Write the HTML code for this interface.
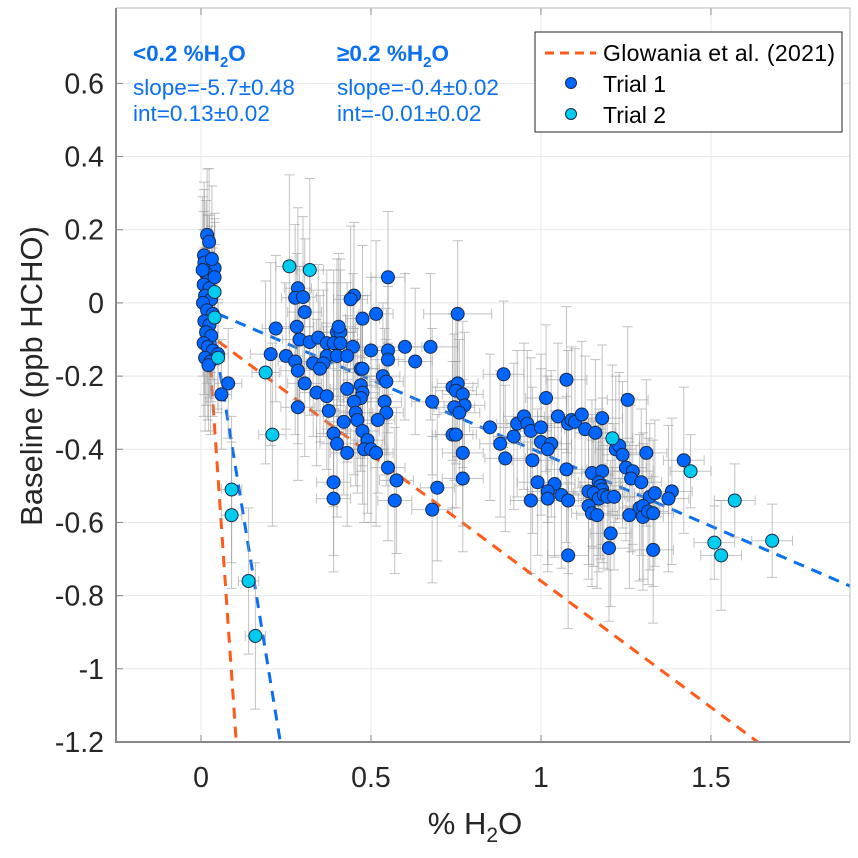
<!DOCTYPE html>
<html><head><meta charset="utf-8"><style>
html,body{margin:0;padding:0;background:#fff;}
svg{display:block;font-family:"Liberation Sans",sans-serif;}
</style></head><body>
<svg id="chart" width="858" height="858" viewBox="0 0 858 858" xmlns="http://www.w3.org/2000/svg">
<rect x="0" y="0" width="858" height="858" fill="#fff"/>
<g id="grid"></g>
<g id="lines"></g>
<g id="errs"></g>
<g id="pts"></g>
<g id="axes"></g>
<text x="0" y="0" transform="translate(42,376) rotate(-90)" text-anchor="middle" font-size="31" fill="#262626">Baseline (ppb HCHO)</text>
<text x="475" y="834" text-anchor="middle" font-size="31" fill="#262626">% H<tspan font-size="21" dy="8">2</tspan><tspan dy="-8">O</tspan></text>
<g fill="#0a6ff0" font-size="22.5">
<text x="133" y="61" font-weight="bold">&lt;0.2 %H<tspan font-size="15" dy="6">2</tspan><tspan dy="-6">O</tspan></text>
<text x="133" y="95">slope=-5.7±0.48</text>
<text x="133" y="121">int=0.13±0.02</text>
</g>
<g fill="#0a6ff0" font-size="22.5">
<text x="337" y="61" font-weight="bold">≥0.2 %H<tspan font-size="15" dy="6">2</tspan><tspan dy="-6">O</tspan></text>
<text x="337" y="95">slope=-0.4±0.02</text>
<text x="337" y="121">int=-0.01±0.02</text>
</g>
<g>
<rect x="535" y="32" width="307" height="100" fill="#fff" stroke="#262626" stroke-width="1"/>
<line x1="545" y1="53" x2="596" y2="53" stroke="#ff5a1a" stroke-width="3" stroke-dasharray="9,6"/>
<text x="603" y="61" font-size="23" fill="#000" textLength="232">Glowania et al. (2021)</text>
<circle cx="571" cy="83" r="5.5" fill="#0066ff" stroke="#1a2a4a" stroke-width="1"/>
<text x="603" y="92" font-size="23" fill="#000">Trial 1</text>
<circle cx="571" cy="114" r="5.5" fill="#00ccf0" stroke="#1a2a4a" stroke-width="1"/>
<text x="603" y="123" font-size="23" fill="#000">Trial 2</text>
</g>
</svg>
<script>
// data: [x, y, xErr, yErr]
var trial1Points = [
[0.018,0.186,0.01,0.18],[0.024,0.167,0.01,0.2],[0.009,0.13,0.01,0.2],[0.04,0.095,0.015,0.15],
[0.01,0.11,0.01,0.2],[0.015,0.08,0.01,0.2],[0.02,0.06,0.01,0.18],[0.008,0.05,0.01,0.2],
[0.025,0.04,0.01,0.2],[0.012,0.02,0.01,0.18],[0.03,0.01,0.01,0.2],[0.006,0.0,0.01,0.2],
[0.018,-0.02,0.01,0.2],[0.035,-0.03,0.015,0.18],[0.01,-0.05,0.01,0.2],[0.025,-0.06,0.01,0.2],
[0.015,-0.08,0.01,0.2],[0.03,-0.09,0.01,0.18],[0.008,-0.11,0.01,0.2],[0.02,-0.12,0.01,0.2],
[0.035,-0.13,0.01,0.18],[0.012,-0.15,0.01,0.2],[0.028,-0.16,0.01,0.2],[0.022,-0.17,0.01,0.18],
[0.05,-0.14,0.03,0.15],[0.08,-0.22,0.04,0.15],[0.06,-0.25,0.03,0.15],[0.04,0.07,0.01,0.15],
[0.032,0.12,0.01,0.2],[0.005,0.09,0.01,0.2],
[0.22,-0.07,0.04,0.2],[0.205,-0.14,0.06,0.25],[0.25,-0.145,0.05,0.2],[0.285,-0.285,0.05,0.2],
[0.55,0.07,0.05,0.18],[0.285,0.04,0.04,0.22],[0.277,0.014,0.04,0.2],[0.30,0.016,0.04,0.22],
[0.305,-0.025,0.05,0.2],[0.282,-0.065,0.05,0.2],[0.29,-0.10,0.05,0.2],[0.32,-0.107,0.05,0.2],
[0.345,-0.095,0.05,0.2],[0.277,-0.16,0.05,0.2],[0.285,-0.185,0.05,0.2],[0.305,-0.22,0.05,0.2],
[0.34,-0.245,0.05,0.2],[0.37,-0.255,0.05,0.2],[0.376,-0.295,0.05,0.2],[0.39,-0.357,0.05,0.2],
[0.40,-0.385,0.05,0.2],[0.39,-0.49,0.05,0.2],[0.39,-0.535,0.05,0.2],[0.43,-0.41,0.05,0.2],
[0.42,-0.325,0.05,0.2],[0.43,-0.235,0.05,0.2],[0.45,0.02,0.05,0.2],[0.44,0.01,0.05,0.2],
[0.475,-0.043,0.05,0.2],[0.515,-0.03,0.05,0.2],[0.40,-0.08,0.05,0.2],[0.41,-0.08,0.05,0.2],
[0.405,-0.065,0.05,0.2],[0.37,-0.11,0.05,0.2],[0.39,-0.11,0.05,0.2],[0.41,-0.11,0.05,0.2],
[0.447,-0.12,0.05,0.2],[0.50,-0.13,0.05,0.2],[0.55,-0.13,0.05,0.2],[0.55,-0.155,0.05,0.2],
[0.37,-0.145,0.05,0.2],[0.40,-0.145,0.05,0.2],[0.43,-0.145,0.05,0.2],[0.33,-0.165,0.05,0.2],
[0.36,-0.165,0.05,0.2],[0.35,-0.18,0.05,0.2],[0.47,-0.18,0.05,0.2],[0.475,-0.18,0.05,0.2],
[0.535,-0.2,0.05,0.2],[0.545,-0.215,0.05,0.2],[0.47,-0.225,0.05,0.2],[0.475,-0.245,0.05,0.2],
[0.47,-0.26,0.05,0.2],[0.45,-0.27,0.05,0.2],[0.455,-0.3,0.05,0.2],[0.46,-0.32,0.05,0.2],
[0.54,-0.27,0.05,0.2],[0.545,-0.3,0.05,0.2],[0.52,-0.32,0.05,0.2],[0.475,-0.35,0.05,0.2],
[0.49,-0.375,0.05,0.2],[0.48,-0.4,0.05,0.2],[0.50,-0.4,0.05,0.2],[0.515,-0.41,0.05,0.2],
[0.55,-0.45,0.05,0.2],[0.575,-0.485,0.05,0.2],[0.57,-0.54,0.05,0.2],[0.695,-0.505,0.05,0.2],
[0.675,-0.12,0.08,0.2],[0.755,-0.03,0.1,0.2],[0.74,-0.23,0.06,0.2],[0.755,-0.22,0.06,0.2],
[0.75,-0.24,0.06,0.2],[0.77,-0.25,0.06,0.2],[0.775,-0.28,0.06,0.2],[0.745,-0.285,0.06,0.2],
[0.76,-0.3,0.06,0.2],[0.74,-0.36,0.06,0.2],[0.75,-0.36,0.06,0.2],[0.77,-0.41,0.06,0.2],
[0.77,-0.48,0.06,0.2],[0.68,-0.27,0.06,0.2],[0.68,-0.565,0.06,0.2],[0.89,-0.195,0.06,0.2],
[1.075,-0.21,0.06,0.2],[1.015,-0.26,0.06,0.2],[1.255,-0.265,0.06,0.2],[0.85,-0.34,0.06,0.2],
[0.88,-0.385,0.06,0.2],[0.895,-0.425,0.06,0.2],[0.92,-0.365,0.06,0.2],[0.93,-0.33,0.06,0.2],
[0.95,-0.31,0.06,0.2],[0.96,-0.33,0.06,0.2],[0.97,-0.35,0.06,0.2],[1.0,-0.34,0.06,0.2],
[1.05,-0.31,0.06,0.2],[1.08,-0.33,0.06,0.2],[1.09,-0.32,0.06,0.2],[1.10,-0.325,0.06,0.2],
[1.12,-0.305,0.06,0.2],[1.13,-0.345,0.06,0.2],[1.16,-0.355,0.06,0.2],[1.18,-0.315,0.06,0.2],
[1.0,-0.38,0.06,0.2],[1.03,-0.385,0.06,0.2],[1.02,-0.4,0.06,0.2],[0.975,-0.43,0.06,0.2],
[1.075,-0.455,0.06,0.2],[0.99,-0.49,0.06,0.2],[1.04,-0.495,0.06,0.2],[1.02,-0.515,0.06,0.2],
[1.02,-0.535,0.06,0.2],[0.97,-0.54,0.06,0.2],[1.06,-0.525,0.06,0.2],[1.08,-0.54,0.06,0.2],
[1.08,-0.69,0.06,0.2],[1.15,-0.465,0.06,0.2],[1.18,-0.46,0.06,0.2],[1.17,-0.49,0.06,0.2],
[1.175,-0.5,0.06,0.2],[1.18,-0.51,0.06,0.2],[1.14,-0.515,0.06,0.2],[1.155,-0.52,0.06,0.2],
[1.17,-0.535,0.06,0.2],[1.185,-0.525,0.06,0.2],[1.195,-0.53,0.06,0.2],[1.215,-0.53,0.06,0.2],
[1.14,-0.555,0.06,0.2],[1.15,-0.575,0.06,0.2],[1.165,-0.58,0.06,0.2],[1.205,-0.63,0.06,0.2],
[1.2,-0.67,0.06,0.2],[1.22,-0.4,0.06,0.2],[1.23,-0.39,0.06,0.2],[1.24,-0.415,0.06,0.2],
[1.25,-0.45,0.06,0.2],[1.27,-0.46,0.06,0.2],[1.265,-0.48,0.06,0.2],[1.295,-0.49,0.06,0.2],
[1.31,-0.41,0.06,0.2],[1.32,-0.53,0.06,0.2],[1.335,-0.52,0.06,0.2],[1.385,-0.515,0.06,0.2],
[1.375,-0.535,0.06,0.2],[1.29,-0.56,0.06,0.2],[1.30,-0.555,0.06,0.2],[1.30,-0.585,0.06,0.2],
[1.315,-0.57,0.06,0.2],[1.33,-0.575,0.06,0.2],[1.26,-0.58,0.06,0.2],[1.33,-0.675,0.06,0.2],
[1.42,-0.43,0.06,0.2],[0.6,-0.12,0.05,0.2],[0.63,-0.16,0.05,0.2]
];
var trial2Points = [
[0.04,0.03,0.01,0.2],[0.04,-0.04,0.01,0.2],[0.05,-0.15,0.02,0.15],[0.26,0.1,0.04,0.25],
[0.32,0.09,0.04,0.25],[0.19,-0.19,0.04,0.25],[0.21,-0.36,0.04,0.25],[0.09,-0.51,0.03,0.2],
[0.09,-0.58,0.03,0.2],[0.14,-0.76,0.03,0.2],[0.16,-0.91,0.03,0.2],[1.21,-0.37,0.06,0.2],
[1.44,-0.46,0.06,0.1],[1.57,-0.54,0.06,0.1],[1.51,-0.655,0.06,0.1],[1.53,-0.69,0.06,0.15],
[1.68,-0.65,0.06,0.1]
];
// fit lines: [slope, intercept, xStart]
var glowaniaSteep = [-13.5, 0.2, 0.02];
var glowaniaShallow = [-0.69, -0.07, 0.05];
var fitLow = [-5.7, 0.13, 0.02];
var fitHigh = [-0.4, -0.01, 0.05];
var xTicks = [0, 0.5, 1, 1.5];
var xTickLabels = ["0", "0.5", "1", "1.5"];
var yTicks = [-1.2, -1, -0.8, -0.6, -0.4, -0.2, 0, 0.2, 0.4, 0.6];
var yTickLabels = ["-1.2", "-1", "-0.8", "-0.6", "-0.4", "-0.2", "0", "0.2", "0.4", "0.6"];

var NS = "http://www.w3.org/2000/svg";
var L = 116, R = 850, T = 8, B = 742;
var XMIN = -0.25, XMAX = 1.909, YMIN = -1.2, YMAX = 0.806;
function sx(v){ return L + (v - XMIN) / (XMAX - XMIN) * (R - L); }
function sy(v){ return B - (v - YMIN) / (YMAX - YMIN) * (B - T); }
function mk(tag, attrs, parent){
  var e = document.createElementNS(NS, tag);
  for (var k in attrs) e.setAttribute(k, attrs[k]);
  parent.appendChild(e);
  return e;
}
var grid = document.getElementById("grid"), axes = document.getElementById("axes");
var lines = document.getElementById("lines"), errs = document.getElementById("errs"), pts = document.getElementById("pts");

xTicks.forEach(function(v, i){
  var g = mk("line", {x1: sx(v), x2: sx(v), y1: T, y2: B, stroke: "#e8e8e8", "stroke-width": 1}, grid);
  
  
  mk("line", {x1: sx(v), x2: sx(v), y1: B, y2: B - 7, stroke: "#888"}, axes);
  mk("line", {x1: sx(v), x2: sx(v), y1: T, y2: T + 7, stroke: "#888"}, axes);
  var t = mk("text", {x: sx(v), y: 787, "text-anchor": "middle", "font-size": 28.5, fill: "#262626"}, axes);
  t.textContent = xTickLabels[i];
  
  
});
yTicks.forEach(function(v, i){
  var g = mk("line", {x1: L, x2: R, y1: sy(v), y2: sy(v), stroke: "#e8e8e8", "stroke-width": 1}, grid);
  
  
  mk("line", {x1: L, x2: L + 7, y1: sy(v), y2: sy(v), stroke: "#888"}, axes);
  var t = mk("text", {x: 104, y: sy(v) + 10, "text-anchor": "end", "font-size": 28.5, fill: "#262626"}, axes);
  t.textContent = yTickLabels[i];
  
  
});
var frame = mk("path", {d: "M" + L + " " + T + " H" + R + " V" + B, fill: "none", stroke: "#bbb", "stroke-width": 1}, axes);


var ax = mk("path", {d: "M" + L + " " + T + " V" + B + " H" + R, fill: "none", stroke: "#888", "stroke-width": 2}, axes);



function drawErr(p){
  var x = sx(p[0]), y = sy(p[1]);
  var x1 = sx(p[0] - p[2]), x2 = sx(p[0] + p[2]), y1 = sy(p[1] + p[3]), y2 = sy(p[1] - p[3]);
  var st = {stroke: "#999", "stroke-opacity": 0.6, "stroke-width": 1, fill: "none"};
  var d = "M" + x + " " + y1 + "V" + y2 + "M" + (x - 5) + " " + y1 + "H" + (x + 5) + "M" + (x - 5) + " " + y2 + "H" + (x + 5) +
          "M" + x1 + " " + y + "H" + x2 + "M" + x1 + " " + (y - 5) + "V" + (y + 5) + "M" + x2 + " " + (y - 5) + "V" + (y + 5);
  st.d = d;
  var e = mk("path", st, errs);
  
  
}
trial1Points.forEach(drawErr);
trial2Points.forEach(drawErr);

function drawLine(f, color, name){
  var x0 = f[2], x1 = XMAX;
  var xAtBottom = (YMIN - f[1]) / f[0];
  if (xAtBottom < x1) x1 = xAtBottom;
  var l = mk("line", {x1: sx(x0), y1: sy(f[1] + f[0] * x0), x2: sx(x1), y2: sy(f[1] + f[0] * x1),
    stroke: color, "stroke-width": 3, "stroke-dasharray": "11,8"}, lines);
  
  
}
drawLine(glowaniaSteep, "#ff5a1a", "glowania-line-steep");
drawLine(glowaniaShallow, "#ff5a1a", "glowania-line-shallow");
drawLine(fitLow, "#0a6ff0", "fit-line-low");
drawLine(fitHigh, "#0a6ff0", "fit-line-high");

trial1Points.forEach(function(p){
  var c = mk("circle", {cx: sx(p[0]), cy: sy(p[1]), r: 6.5, fill: "#0066ff", stroke: "#1a2a4a", "stroke-width": 1}, pts);
  
  
});
trial2Points.forEach(function(p){
  var c = mk("circle", {cx: sx(p[0]), cy: sy(p[1]), r: 6.5, fill: "#00ccf0", stroke: "#1a2a4a", "stroke-width": 1}, pts);
  
  
});
</script>
</body></html>
